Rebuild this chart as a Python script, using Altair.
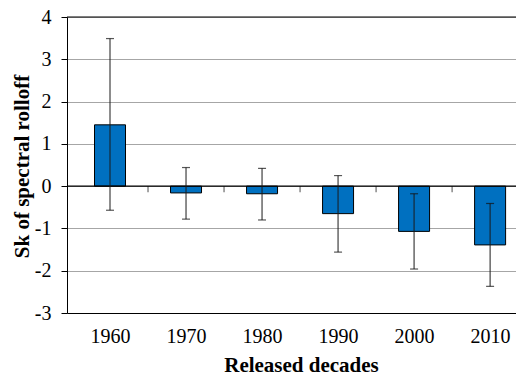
import altair as alt
import pandas as pd

decades = [1960, 1970, 1980, 1990, 2000, 2010]
means = [1.45, -0.16, -0.18, -0.65, -1.07, -1.39]
err_low = [-0.57, -0.78, -0.80, -1.56, -1.96, -2.37]
err_high = [3.49, 0.44, 0.42, 0.25, -0.18, -0.41]
y_ticks = [-3, -2, -1, 0, 1, 2, 3, 4]
ref_lines = [0, 4]

df = pd.DataFrame({"decade": decades, "mean": means, "lo": err_low, "hi": err_high})
bounds = pd.DataFrame({"b": [d + 5 for d in decades[:-1]], "z": [0] * (len(decades) - 1)})
lines = pd.DataFrame({"v": ref_lines})

FONT = "Liberation Serif"
x_scale = alt.Scale(domain=[1955, 2012.75], nice=False, zero=False)
y_scale = alt.Scale(domain=[-3, 4], nice=False)

x_axis = alt.Axis(
    values=decades, format="d", ticks=False, grid=False, domainColor="black",
    labelFont=FONT, labelFontSize=20, labelColor="black", labelPadding=13,
    title="Released decades", titleFont=FONT, titleFontSize=21, titleFontWeight="bold",
    titleColor="black", titleX=234, titleY=58, titleBaseline="alphabetic", titleAlign="center",
)
y_axis = alt.Axis(
    values=y_ticks, tickSize=6, tickColor="black", domainColor="black",
    grid=True, gridColor="#A6A6A6", gridWidth=1,
    labelFont=FONT, labelFontSize=20, labelColor="black", labelPadding=10,
    labelExpr="'' + datum.value",
    title="Sk of spectral rolloff", titleFont=FONT, titleFontSize=21, titleFontWeight="bold",
    titleColor="black", titleX=-39, titleY=149, titleBaseline="alphabetic", titleAlign="center",
)

base = alt.Chart(df)

bars = base.mark_bar(size=31, color="#0070C0", stroke="#000000", strokeWidth=1).encode(
    x=alt.X("decade:Q", scale=x_scale, axis=x_axis),
    y=alt.Y("mean:Q", scale=y_scale, axis=y_axis),
)

ref = alt.Chart(lines).mark_rule(color="black", strokeWidth=1.2).encode(
    y=alt.Y("v:Q", scale=y_scale)
)

bticks = alt.Chart(bounds).mark_tick(orient="vertical", size=6, thickness=1, color="black", yOffset=3).encode(
    x=alt.X("b:Q", scale=x_scale), y=alt.Y("z:Q", scale=y_scale)
)

err = base.mark_rule(color="#1a1a1a", strokeWidth=1).encode(
    x=alt.X("decade:Q", scale=x_scale), y=alt.Y("lo:Q", scale=y_scale), y2="hi:Q"
)

caps = base.transform_fold(["lo", "hi"]).mark_tick(
    orient="horizontal", size=8, thickness=1.2, color="#111111"
).encode(x=alt.X("decade:Q", scale=x_scale), y=alt.Y("value:Q", scale=y_scale))

chart = alt.layer(bars, ref, bticks, err, caps).properties(
    width=449, height=296,
    autosize=alt.AutoSizeParams(type="none"),
    padding={"left": 59, "top": 9, "right": 0, "bottom": 59},
).configure_view(stroke=None)

chart.save("out.html", embed_options={"renderer": "svg", "actions": False})
